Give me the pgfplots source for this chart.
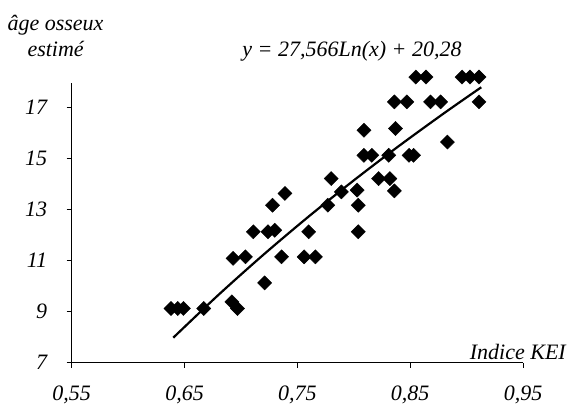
\documentclass[border=0pt]{standalone}
\usepackage{fontspec}
\setmainfont{Liberation Serif}
\usepackage{pgfplots}
\pgfplotsset{compat=1.18}

\begin{document}
\begin{tikzpicture}[font=\fontsize{22}{26}\selectfont\itshape]
\useasboundingbox (0,0) rectangle (574pt,406pt);

\begin{axis}[
    at={(71.7pt,43.3pt)}, anchor=south west,
    scale only axis,
    width=451.3pt, height=280pt,
    xmin=0.55, xmax=0.95,
    ymin=7, ymax=17.95,
    axis lines*=left,
    axis line style={-, line width=0.9pt},
    clip=false,
    xtick={0.55,0.65,0.75,0.85,0.95},
    xticklabels={{0,55},{0,65},{0,75},{0,85},{0,95}},
    ytick={7,9,11,13,15,17},
    yticklabels={7,9,11,13,15,17},
    tick align=outside,
    major tick length=5pt,
    tick style={line width=0.8pt, black},
    tick label style={font=\fontsize{22}{26}\selectfont\itshape},
    xticklabel style={yshift=-15pt},
    yticklabel style={xshift=-16pt},
    /pgf/number format/assume math mode=true,
]

% estimations individuelles
\addplot[only marks, mark=square*, mark size=5pt,
         mark options={rotate=45, fill=black, draw=black}] coordinates {
    (0.638,9.12) (0.644,9.12) (0.649,9.12) (0.667,9.12)
    (0.692,9.38) (0.697,9.12)
    (0.721,10.12)
    (0.693,11.08) (0.704,11.14) (0.736,11.14) (0.756,11.14) (0.766,11.14)
    (0.711,12.12) (0.724,12.12) (0.730,12.18) (0.760,12.12) (0.804,12.12)
    (0.728,13.16) (0.777,13.16) (0.804,13.16)
    (0.739,13.62) (0.789,13.68) (0.803,13.75) (0.836,13.72)
    (0.780,14.20) (0.822,14.20) (0.832,14.20)
    (0.809,15.11) (0.816,15.11) (0.831,15.11) (0.849,15.11) (0.853,15.11)
    (0.883,15.63)
    (0.809,16.09) (0.837,16.16)
    (0.836,17.20) (0.847,17.20) (0.868,17.20) (0.877,17.20) (0.911,17.20)
    (0.855,18.17) (0.864,18.17) (0.896,18.17) (0.903,18.17) (0.911,18.17)
};

% courbe de tendance logarithmique
\addplot[black, line width=2.2pt, smooth] coordinates {
    (0.640,7.977) (0.680,9.649) (0.720,11.225) (0.760,12.715)
    (0.800,14.129) (0.840,15.474) (0.880,16.756) (0.913,17.771)
};

\end{axis}

\node[anchor=base west] at (4pt,375pt) {âge osseux};
\node[anchor=base west] at (24pt,349pt) {estimé};
\node[anchor=base] at (352pt,349pt) {y = 27,566Ln(x) + 20,28};
\node[anchor=base east, inner sep=0pt] at (566pt,46pt) {Indice KEI};
\end{tikzpicture}
\end{document}
